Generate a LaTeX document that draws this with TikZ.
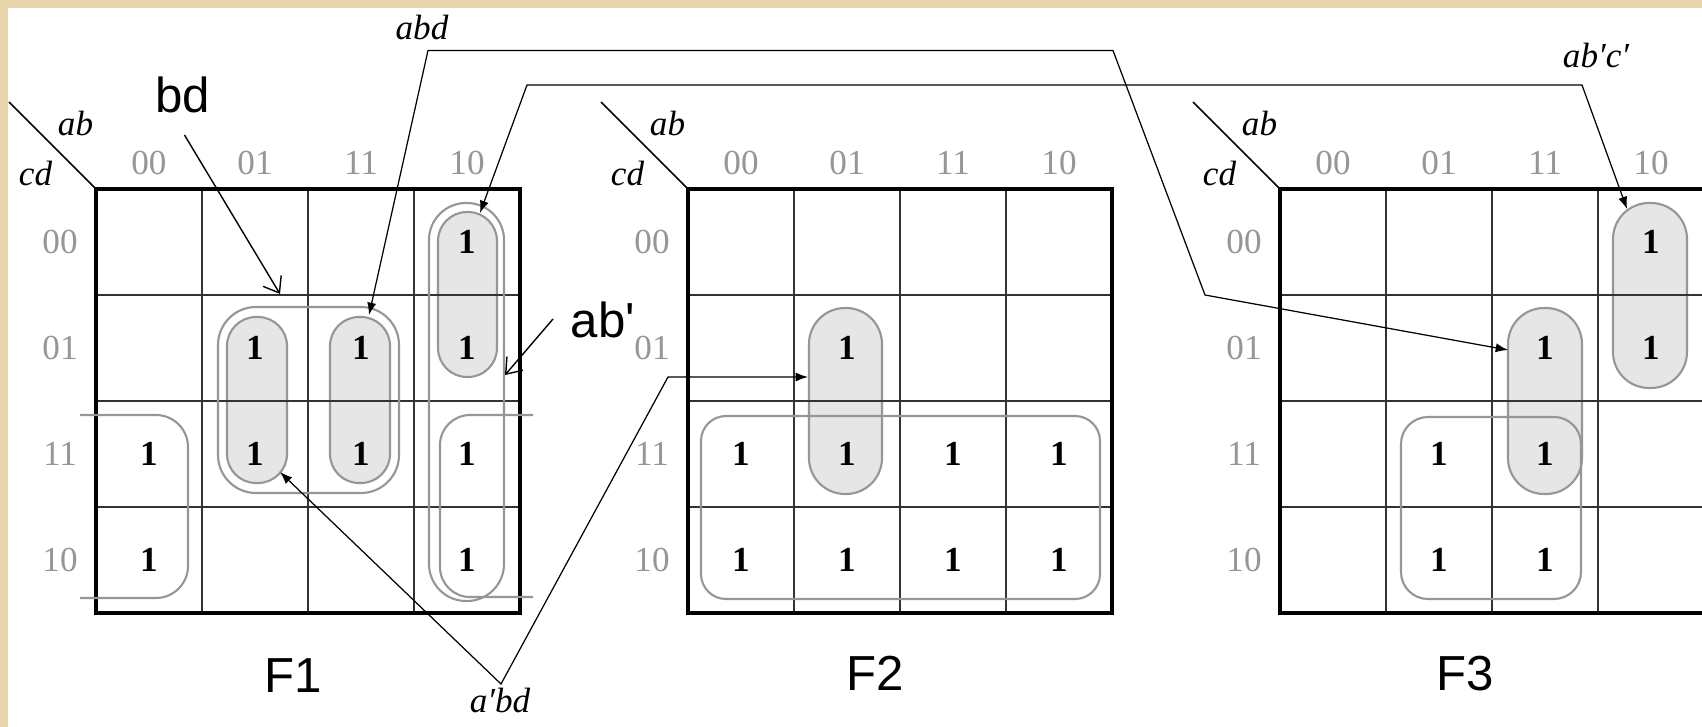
\documentclass[tikz,border=0pt]{standalone}
\usepackage{fontspec}
\setmainfont{Liberation Serif}
\newfontfamily\arialfont{Liberation Sans}
\usepackage{tikz}
\usetikzlibrary{arrows.meta}

\definecolor{paper}{RGB}{233,214,170}
\definecolor{loopgray}{RGB}{150,150,150}
\definecolor{pillfill}{RGB}{230,230,230}
\definecolor{axisgray}{RGB}{150,150,150}

\tikzset{
  cellline/.style={black!80, line width=0.55pt},
  frame/.style={black, line width=0.9pt},
  pill/.style={draw=loopgray, fill=pillfill, line width=0.6pt, inner sep=0pt},
  loopline/.style={draw=loopgray, line width=0.6pt, inner sep=0pt},
  lead/.style={black, line width=0.35pt, {Latex[length=3.5pt,width=2.6pt]}-{Latex[length=3.5pt,width=2.6pt]}},
  callout/.style={black, line width=0.4pt, -{Straight Barb[length=4pt,width=6pt]}},
  one/.style={font=\fontsize{10}{12}\selectfont\bfseries},
  axis/.style={font=\fontsize{10}{12}\selectfont, text=axisgray},
  var/.style={font=\fontsize{10}{12}\selectfont\itshape},
  tag/.style={font=\arialfont\fontsize{14}{16}\selectfont},
}

\begin{document}
\begin{tikzpicture}[y=-1cm]
\useasboundingbox (0,0) rectangle (17.02,7.27);
\clip (0,0) rectangle (17.02,7.27);
\fill[paper] (0,0) rectangle (17.02,7.27);
\fill[white] (0.08,0.08) rectangle (17.02,7.27);

% shaded prime implicants (under the grid)
\node[pill, minimum width=0.59cm, minimum height=1.65cm, rounded corners=0.29cm] (f1abc) at (4.675,2.945) {};
\node[pill, minimum width=0.60cm, minimum height=1.66cm, rounded corners=0.29cm] (f1nabd) at (2.57,4.00) {};
\node[pill, minimum width=0.60cm, minimum height=1.66cm, rounded corners=0.29cm] (f1abd) at (3.60,4.00) {};
\node[pill, minimum width=0.73cm, minimum height=1.86cm, rounded corners=0.36cm] (f2nabd) at (8.455,4.01) {};
\node[pill, minimum width=0.74cm, minimum height=1.85cm, rounded corners=0.36cm] (f3abc) at (16.50,2.955) {};
\node[pill, minimum width=0.74cm, minimum height=1.86cm, rounded corners=0.36cm] (f3abd) at (15.45,4.01) {};

% the three maps
\foreach \g/\gx in {f1/0.96, f2/6.88, f3/12.80} {
  \begin{scope}[shift={(\gx,1.89)}]
    \foreach \k in {1,2,3} {
      \draw[cellline] (\k*1.06,0) -- (\k*1.06,4.24);
      \draw[cellline] (0,\k*1.06) -- (4.24,\k*1.06);
    }
    \draw[frame] (0,0) rectangle (4.24,4.24);
    \coordinate (\g-corner) at (0,0);
    \coordinate (\g-diag) at (-0.87,-0.87);
    \draw[black, line width=0.45pt] (\g-diag) -- (\g-corner);
    \node[var, anchor=base] (\g-ab) at (-0.205,-0.54) {ab};
    \node[var, anchor=base] (\g-cd) at (-0.605,-0.04) {cd};
    \foreach \lbl [count=\i from 0] in {00,01,11,10} {
      \node[axis] (\g-col\i) at (\i*1.06+0.53,-0.265) {\lbl};
      \node[axis] (\g-row\i) at (-0.36,\i*1.06+0.53) {\lbl};
    }
  \end{scope}
}

% ones
\foreach \c/\r in {3/0,1/1,2/1,3/1,0/2,1/2,2/2,3/2,0/3,3/3}
  \node[one] (f1-\c\r) at (1.49+\c*1.06,2.42+\r*1.06) {1};
\foreach \c/\r in {1/1,0/2,1/2,2/2,3/2,0/3,1/3,2/3,3/3}
  \node[one] (f2-\c\r) at (7.41+\c*1.06,2.42+\r*1.06) {1};
\foreach \c/\r in {3/0,2/1,3/1,1/2,2/2,1/3,2/3}
  \node[one] (f3-\c\r) at (13.33+\c*1.06,2.42+\r*1.06) {1};

% outlined groups
\node[loopline, minimum width=0.75cm, minimum height=3.98cm, rounded corners=0.37cm] (f1ab) at (4.665,4.02) {};
\node[loopline, minimum width=1.81cm, minimum height=1.86cm, rounded corners=0.38cm] (f1bd) at (3.085,4.00) {};
\draw[loopline, rounded corners=0.32cm] (0.80,4.15) -- (1.88,4.15) -- (1.88,5.98) -- (0.80,5.98);
\draw[loopline, rounded corners=0.30cm] (5.33,4.15) -- (4.40,4.15) -- (4.40,5.97) -- (5.33,5.97);
\draw[loopline, rounded corners=0.25cm] (7.01,4.16) rectangle (11.00,5.99);
\draw[loopline, rounded corners=0.27cm] (14.01,4.17) rectangle (15.81,5.99);

% shared terms
\node[var, anchor=base] (abdlbl) at (4.22,0.39) {abd};
\coordinate (abd1) at (3.69,3.15);
\coordinate (abdA) at (4.28,0.505);
\coordinate (abdB) at (11.13,0.505);
\coordinate (abdC) at (12.05,2.95);
\coordinate (abd3) at (15.08,3.50);
\draw[lead] (abd1) -- (abdA) -- (abdB) -- (abdC) -- (abd3);

\node[var, anchor=base] (abclbl) at (15.96,0.67) {ab′c′};
\coordinate (abc1) at (4.80,2.13);
\coordinate (abcA) at (5.27,0.85);
\coordinate (abcB) at (15.82,0.85);
\coordinate (abc3) at (16.27,2.09);
\draw[lead] (abc1) -- (abcA) -- (abcB) -- (abc3);

\node[var, anchor=base] (nabdlbl) at (5.00,7.12) {a′bd};
\coordinate (nabd1) at (2.80,4.72);
\coordinate (nabdV) at (5.01,6.84);
\coordinate (nabdA) at (6.68,3.77);
\coordinate (nabd2) at (8.08,3.77);
\draw[lead] (nabd1) -- (nabdV) -- (nabdA) -- (nabd2);

% added callouts
\node[tag, anchor=base] (bdlbl) at (1.825,1.12) {bd};
\coordinate (bdfrom) at (1.845,1.35);
\coordinate (bdto) at (2.80,2.94);
\draw[callout] (bdfrom) -- (bdto);

\node[tag, anchor=base] (ablbl) at (6.03,3.37) {ab\textquotesingle};
\coordinate (abfrom) at (5.53,3.19);
\coordinate (abto) at (5.05,3.75);
\draw[callout] (abfrom) -- (abto);

\node[tag, anchor=base] (F1) at (2.93,6.92) {F1};
\node[tag, anchor=base] (F2) at (8.75,6.90) {F2};
\node[tag, anchor=base] (F3) at (14.65,6.90) {F3};
\end{tikzpicture}
\end{document}
